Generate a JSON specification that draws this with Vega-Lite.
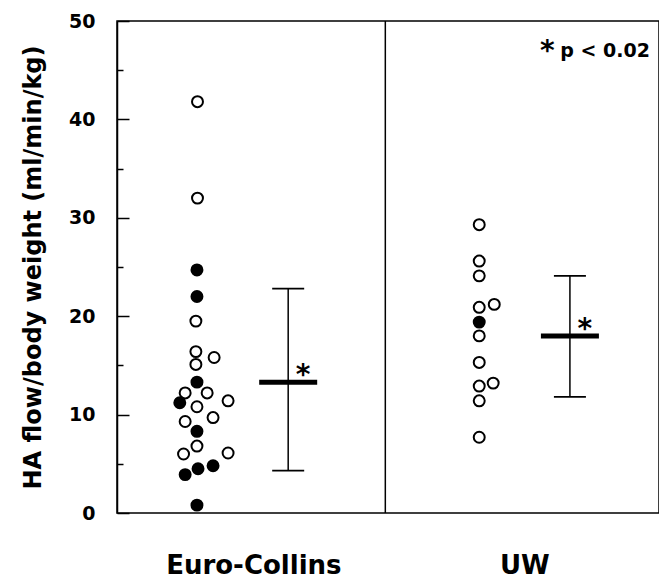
{
  "$schema": "https://vega.github.io/schema/vega-lite/v6.json",
  "width": 542,
  "height": 492,
  "autosize": {"type": "none"},
  "padding": {"left": 117, "top": 21, "right": 0, "bottom": 67},
  "background": "white",
  "config": {
    "view": {"stroke": "black", "strokeWidth": 1.5},
    "font": "DejaVu Sans"
  },
  "datasets": {
    "points": [
      {"group": "Euro-Collins", "pos": 1.50, "flow": 41.8, "kind": "open"},
      {"group": "Euro-Collins", "pos": 1.50, "flow": 32.0, "kind": "open"},
      {"group": "Euro-Collins", "pos": 1.49, "flow": 24.7, "kind": "filled"},
      {"group": "Euro-Collins", "pos": 1.49, "flow": 22.0, "kind": "filled"},
      {"group": "Euro-Collins", "pos": 1.47, "flow": 19.5, "kind": "open"},
      {"group": "Euro-Collins", "pos": 1.47, "flow": 16.4, "kind": "open"},
      {"group": "Euro-Collins", "pos": 1.81, "flow": 15.8, "kind": "open"},
      {"group": "Euro-Collins", "pos": 1.47, "flow": 15.1, "kind": "open"},
      {"group": "Euro-Collins", "pos": 1.49, "flow": 13.3, "kind": "filled"},
      {"group": "Euro-Collins", "pos": 1.27, "flow": 12.2, "kind": "open"},
      {"group": "Euro-Collins", "pos": 1.68, "flow": 12.2, "kind": "open"},
      {"group": "Euro-Collins", "pos": 2.07, "flow": 11.4, "kind": "open"},
      {"group": "Euro-Collins", "pos": 1.17, "flow": 11.2, "kind": "filled"},
      {"group": "Euro-Collins", "pos": 1.49, "flow": 10.8, "kind": "open"},
      {"group": "Euro-Collins", "pos": 1.27, "flow": 9.3, "kind": "open"},
      {"group": "Euro-Collins", "pos": 1.79, "flow": 9.7, "kind": "open"},
      {"group": "Euro-Collins", "pos": 1.49, "flow": 8.3, "kind": "filled"},
      {"group": "Euro-Collins", "pos": 1.49, "flow": 6.8, "kind": "open"},
      {"group": "Euro-Collins", "pos": 1.24, "flow": 6.0, "kind": "open"},
      {"group": "Euro-Collins", "pos": 2.07, "flow": 6.1, "kind": "open"},
      {"group": "Euro-Collins", "pos": 1.27, "flow": 3.9, "kind": "filled"},
      {"group": "Euro-Collins", "pos": 1.51, "flow": 4.5, "kind": "filled"},
      {"group": "Euro-Collins", "pos": 1.79, "flow": 4.8, "kind": "filled"},
      {"group": "Euro-Collins", "pos": 1.49, "flow": 0.8, "kind": "filled"},
      {"group": "UW", "pos": 6.75, "flow": 29.3, "kind": "open"},
      {"group": "UW", "pos": 6.75, "flow": 25.6, "kind": "open"},
      {"group": "UW", "pos": 6.75, "flow": 24.1, "kind": "open"},
      {"group": "UW", "pos": 6.75, "flow": 20.9, "kind": "open"},
      {"group": "UW", "pos": 7.03, "flow": 21.2, "kind": "open"},
      {"group": "UW", "pos": 6.75, "flow": 19.4, "kind": "filled"},
      {"group": "UW", "pos": 6.75, "flow": 18.0, "kind": "open"},
      {"group": "UW", "pos": 6.75, "flow": 15.3, "kind": "open"},
      {"group": "UW", "pos": 6.75, "flow": 12.9, "kind": "open"},
      {"group": "UW", "pos": 7.01, "flow": 13.2, "kind": "open"},
      {"group": "UW", "pos": 6.75, "flow": 11.4, "kind": "open"},
      {"group": "UW", "pos": 6.75, "flow": 7.7, "kind": "open"}
    ],
    "stats": [
      {"group": "Euro-Collins", "pos": 3.19, "mean": 13.3, "lo": 4.3, "hi": 22.8},
      {"group": "UW", "pos": 8.44, "mean": 18.0, "lo": 11.8, "hi": 24.1}
    ],
    "labels": [
      {"group": "Euro-Collins", "pos": 2.55, "flow": -5.4},
      {"group": "UW", "pos": 7.6, "flow": -5.4}
    ],
    "note": [
      {"pos": 8.26, "flow": 47.0, "text": "p < 0.02"}
    ]
  },
  "resolve": {"axis": {"y": "independent"}},
  "layer": [
    {
      "data": {"values": [{"pos": 5}]},
      "mark": {"type": "rule", "color": "black", "strokeWidth": 1.5},
      "encoding": {
        "x": {"field": "pos", "type": "quantitative", "scale": {"domain": [0, 10.1], "nice": false, "zero": false}, "axis": null},
        "y": {
          "datum": 0,
          "type": "quantitative",
          "scale": {"domain": [0, 50], "nice": false, "zero": false},
          "axis": {
            "orient": "left",
            "title": null,
            "values": [5, 15, 25, 35, 45],
            "labels": false,
            "grid": false,
            "domain": false,
            "ticks": true,
            "tickColor": "black",
            "tickWidth": 1.5,
            "tickSize": -6
          }
        },
        "y2": {"datum": 50}
      }
    },
    {
      "data": {"name": "points"},
      "mark": {"type": "point", "shape": "circle", "filled": true, "size": 120, "stroke": "black", "strokeWidth": 2, "opacity": 1},
      "encoding": {
        "x": {"field": "pos", "type": "quantitative"},
        "y": {
          "field": "flow",
          "type": "quantitative",
          "axis": {
            "orient": "left",
            "offset": 0,
            "title": "HA flow/body weight (ml/min/kg)",
            "values": [0, 10, 20, 30, 40, 50],
            "grid": false,
            "domain": true,
            "domainColor": "black",
            "domainWidth": 1.5,
            "ticks": false,
            "labelPadding": 22,
            "labelFont": "DejaVu Sans",
            "labelFontWeight": "bold",
            "labelFontSize": 19,
            "labelColor": "black",
            "labelFlush": false,
            "labelOverlap": false,
            "titleFont": "DejaVu Sans",
            "titleFontWeight": "bold",
            "titleFontSize": 24,
            "titleColor": "black",
            "titleAngle": -90,
            "titleAlign": "center",
            "titleBaseline": "middle",
            "titleX": -84,
            "titleY": 246
          }
        },
        "fill": {"field": "kind", "type": "nominal", "scale": {"domain": ["filled", "open"], "range": ["black", "white"]}, "legend": null}
      }
    },
    {
      "data": {"name": "stats"},
      "mark": {"type": "rule", "color": "black", "strokeWidth": 1.5},
      "encoding": {
        "x": {"field": "pos", "type": "quantitative"},
        "y": {
          "field": "lo",
          "type": "quantitative",
          "axis": {
            "orient": "left",
            "title": null,
            "values": [0, 10, 20, 30, 40, 50],
            "labels": false,
            "grid": false,
            "domain": false,
            "ticks": true,
            "tickColor": "black",
            "tickWidth": 1.5,
            "tickSize": -12
          }
        },
        "y2": {"field": "hi"}
      }
    },
    {
      "data": {"name": "stats"},
      "mark": {"type": "tick", "orient": "horizontal", "color": "black", "size": 32, "thickness": 1.8, "opacity": 1},
      "encoding": {
        "x": {"field": "pos", "type": "quantitative"},
        "y": {"field": "hi", "type": "quantitative", "axis": null}
      }
    },
    {
      "data": {"name": "stats"},
      "mark": {"type": "tick", "orient": "horizontal", "color": "black", "size": 32, "thickness": 1.8, "opacity": 1},
      "encoding": {
        "x": {"field": "pos", "type": "quantitative"},
        "y": {"field": "lo", "type": "quantitative", "axis": null}
      }
    },
    {
      "data": {"name": "stats"},
      "mark": {"type": "tick", "orient": "horizontal", "color": "black", "size": 58, "thickness": 5, "opacity": 1},
      "encoding": {
        "x": {"field": "pos", "type": "quantitative"},
        "y": {"field": "mean", "type": "quantitative", "axis": null}
      }
    },
    {
      "data": {"name": "stats"},
      "mark": {"type": "text", "text": "*", "font": "DejaVu Sans", "fontWeight": "bold", "fontSize": 28, "align": "center", "baseline": "alphabetic", "dx": 15, "dy": 2, "color": "black"},
      "encoding": {
        "x": {"field": "pos", "type": "quantitative"},
        "y": {"field": "mean", "type": "quantitative", "axis": null}
      }
    },
    {
      "data": {"name": "labels"},
      "mark": {"type": "text", "font": "DejaVu Sans", "fontWeight": "bold", "fontSize": 26, "align": "center", "baseline": "middle", "color": "black"},
      "encoding": {
        "x": {"field": "pos", "type": "quantitative"},
        "y": {"field": "flow", "type": "quantitative", "axis": null},
        "text": {"field": "group"}
      }
    },
    {
      "data": {"name": "note"},
      "mark": {"type": "text", "font": "DejaVu Sans", "fontWeight": "bold", "fontSize": 19, "align": "left", "baseline": "middle", "color": "black"},
      "encoding": {
        "x": {"field": "pos", "type": "quantitative"},
        "y": {"field": "flow", "type": "quantitative", "axis": null},
        "text": {"field": "text"}
      }
    },
    {
      "data": {"name": "note"},
      "mark": {"type": "text", "text": "*", "font": "DejaVu Sans", "fontWeight": "bold", "fontSize": 28, "align": "center", "baseline": "alphabetic", "dx": -13, "dy": 9, "color": "black"},
      "encoding": {
        "x": {"field": "pos", "type": "quantitative"},
        "y": {"field": "flow", "type": "quantitative", "axis": null}
      }
    }
  ]
}
